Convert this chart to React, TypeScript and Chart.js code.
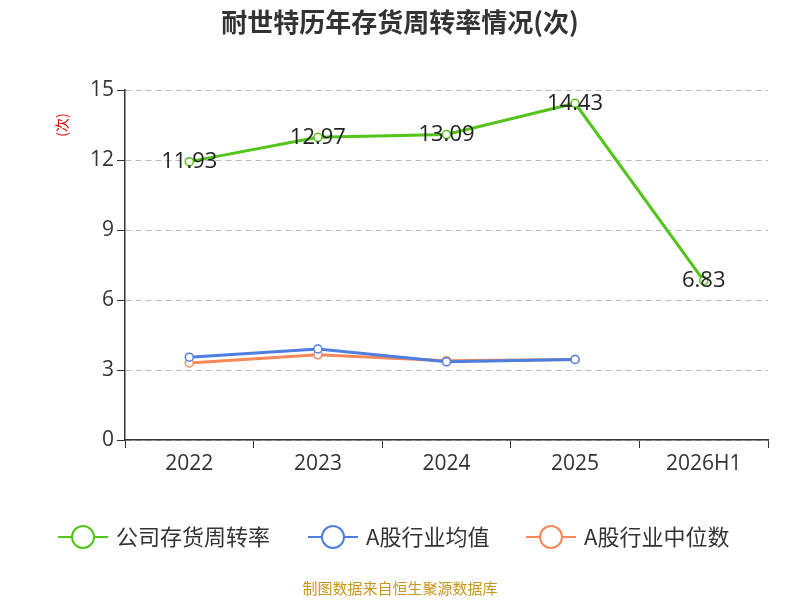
import React, { useEffect, useRef } from "react";
import { Chart, registerables } from "chart.js";
Chart.register(...registerables);

const categories = ["2022", "2023", "2024", "2025", "2026H1"];
const companySeries = [11.93, 12.97, 13.09, 14.43, 6.83];
const avgSeries = [3.55, 3.9, 3.35, 3.45, null];
const medianSeries = [3.3, 3.65, 3.4, 3.45, null];
const yTicks = [0, 3, 6, 9, 12, 15];
const FONT = "'Open Sans', 'Noto Sans CJK SC', sans-serif";
const CJK = "'Noto Sans CJK SC', sans-serif";

const overlay = {
  id: "overlay",
  afterDraw(chart: any) {
    const ctx = chart.ctx;
    ctx.save();
    ctx.fillStyle = "#333";
    ctx.font = `bold 26px ${CJK}`;
    ctx.textAlign = "center";
    ctx.textBaseline = "middle";
    ctx.fillText("耐世特历年存货周转率情况(次)", 400, 22);
    ctx.save();
    ctx.translate(62, 125);
    ctx.rotate(-Math.PI / 2);
    ctx.fillStyle = "#d00";
    ctx.font = `14px ${CJK}`;
    ctx.fillText("(次)", 0, 0);
    ctx.restore();
    const meta = chart.getDatasetMeta(0);
    ctx.fillStyle = "#222";
    ctx.font = `22px ${FONT}`;
    meta.data.forEach((p: any, i: number) => {
      ctx.fillText(companySeries[i].toFixed(2), p.x, p.y);
    });
    const items = [
      ["公司存货周转率", "#52c41a", 58],
      ["A股行业均值", "#4e7fe0", 308],
      ["A股行业中位数", "#f5895a", 526],
    ];
    ctx.textAlign = "left";
    ctx.font = `22px ${CJK}`;
    items.forEach(([t, c, x]: any) => {
      ctx.strokeStyle = c;
      ctx.lineWidth = 2;
      ctx.beginPath();
      ctx.moveTo(x, 537);
      ctx.lineTo(x + 50, 537);
      ctx.stroke();
      ctx.beginPath();
      ctx.arc(x + 25, 537, 11, 0, Math.PI * 2);
      ctx.fillStyle = "#fff";
      ctx.fill();
      ctx.stroke();
      ctx.fillStyle = "#333";
      ctx.fillText(t, x + 58, 537);
    });
    ctx.textAlign = "center";
    ctx.fillStyle = "#c8961e";
    ctx.font = `15px ${CJK}`;
    ctx.fillText("制图数据来自恒生聚源数据库", 400, 588);
    ctx.restore();
  },
};

export default function App() {
  const ref = useRef<HTMLCanvasElement>(null);
  useEffect(() => {
    const mk = (label: string, data: any[], color: string) => ({
      label, data, borderColor: color, backgroundColor: "#fff",
      borderWidth: 3, pointRadius: 4, pointBorderWidth: 1.5,
      pointBackgroundColor: "#fff", pointBorderColor: color, tension: 0,
    });
    const chart = new Chart(ref.current!, {
      type: "line",
      data: {
        labels: categories,
        datasets: [
          mk("公司存货周转率", companySeries, "#52c41a"),
          mk("A股行业均值", avgSeries, "#4e7fe0"),
          mk("A股行业中位数", medianSeries, "#f5895a"),
        ],
      },
      options: {
        animation: false,
        responsive: false,
        layout: { padding: { top: 90, bottom: 120, left: 0, right: 32 } },
        plugins: { legend: { display: false }, title: { display: false }, tooltip: { enabled: false } },
        scales: {
          x: {
            offset: true,
            afterFit: (s: any) => { s.height = 40; },
            grid: { offset: true, drawOnChartArea: false, tickLength: 8, color: "#333" },
            border: { color: "#333", width: 1.5 },
            ticks: { color: "#333", font: { family: FONT, size: 21 } },
          },
          y: {
            min: 0, max: 15,
            afterFit: (s: any) => { s.width = 125; },
            afterBuildTicks: (s: any) => { s.ticks = yTicks.map((v) => ({ value: v })); },
            grid: { color: "#bbb", tickLength: 8, tickColor: "#333" },
            border: { color: "#333", width: 1.5, dash: [6, 4] } as any,
            ticks: { color: "#333", font: { family: FONT, size: 21 } },
          },
        },
      },
      plugins: [overlay],
    });
    return () => chart.destroy();
  }, []);
  return (
    <div style={{ position: "fixed", left: 0, top: 0, width: 800, height: 600, background: "#fff" }}>
      <canvas ref={ref} width={800} height={600} style={{ width: 800, height: 600 }} />
    </div>
  );
}
